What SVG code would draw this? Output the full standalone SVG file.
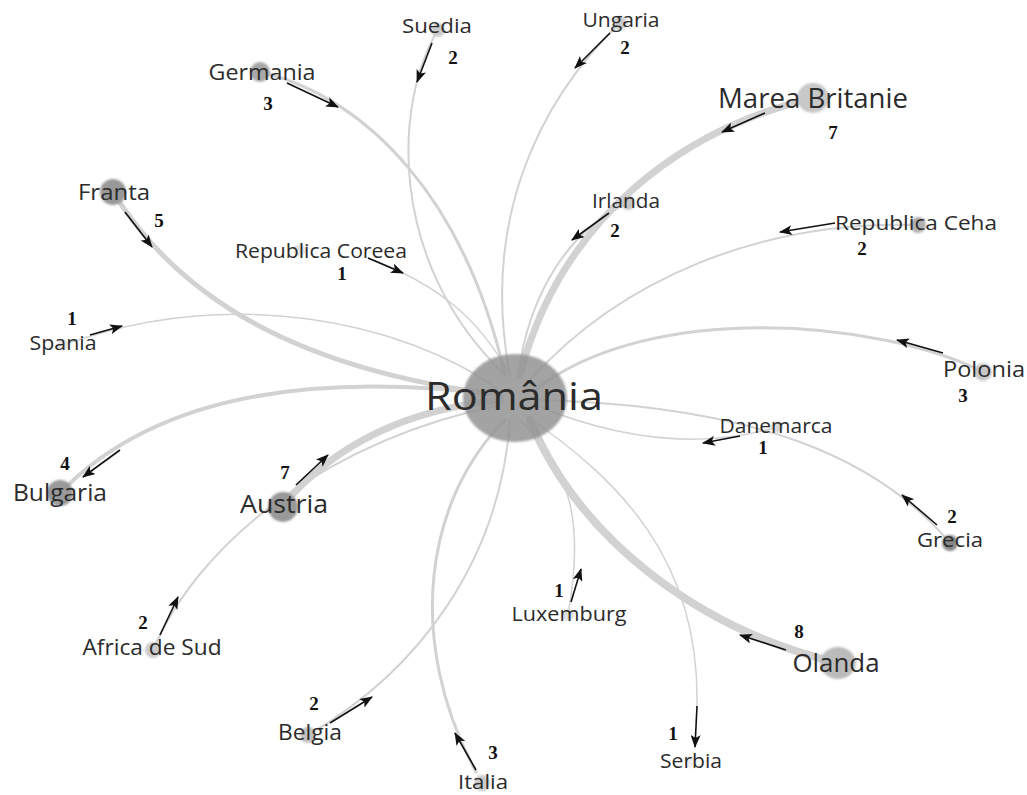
<svg xmlns="http://www.w3.org/2000/svg" width="1027" height="795" viewBox="0 0 1027 795">
<defs>
<style>
.lbl{font-family:"Open Sans","DejaVu Sans",sans-serif;fill:#2b2b2b;text-anchor:middle}
.num{font-family:"Liberation Serif","Times New Roman",serif;font-weight:bold;font-size:19px;fill:#111;text-anchor:middle}
.e{fill:none;stroke:#d2d2d2;stroke-linecap:round}
.ar{stroke:#111;stroke-width:1.6;fill:none;marker-end:url(#ah)}
.dot{filter:url(#soft)}
</style>
<filter id="soft" x="-50%" y="-50%" width="200%" height="200%"><feGaussianBlur stdDeviation="0.8"/></filter>
<marker id="ah" markerWidth="14" markerHeight="10" refX="12" refY="5" orient="auto" markerUnits="userSpaceOnUse"><path d="M0,0 L13,5 L0,10 L3,5 z" fill="#111"/></marker>
</defs>
<rect width="1027" height="795" fill="#ffffff"/>

<g id="connectors">
<path class="e" stroke-width="3" d="M262,72 C370,100 465,200 505,375"/>
<path class="e" stroke-width="2" d="M438,30 C395,100 385,260 505,375"/>
<path class="e" stroke-width="2" d="M620,23 C540,100 480,220 510,375"/>
<path class="e" stroke-width="7" d="M813,98 C680,130 560,220 520,375"/>
<path class="e" stroke-width="2" d="M628,203 C570,230 530,290 518,375"/>
<path class="e" stroke-width="2" d="M918,225 C760,220 620,280 530,380"/>
<path class="e" stroke-width="3" d="M983,372 C880,320 650,300 535,390"/>
<path class="e" stroke-width="1.5" d="M777,427 C700,450 620,440 535,405"/>
<path class="e" stroke-width="2" d="M950,543 C880,460 760,405 535,400"/>
<path class="e" stroke-width="8" d="M838,663 C700,630 580,540 530,420"/>
<path class="e" stroke-width="1.5" d="M697,706 C700,560 620,480 525,415"/>
<path class="e" stroke-width="1.5" d="M568,615 C585,520 570,470 520,420"/>
<path class="e" stroke-width="3" d="M476,772 C405,640 425,500 505,420"/>
<path class="e" stroke-width="2" d="M308,735 C420,670 500,560 510,420"/>
<path class="e" stroke-width="2" d="M153,650 C200,540 330,440 500,405"/>
<path class="e" stroke-width="7" d="M283,505 C330,450 400,410 500,400"/>
<path class="e" stroke-width="4" d="M60,493 C150,400 300,370 500,395"/>
<path class="e" stroke-width="1.5" d="M63,345 C230,285 400,320 500,390"/>
<path class="e" stroke-width="5" d="M113,192 C180,300 300,370 500,395"/>
<path class="e" stroke-width="1.5" d="M368,258 C440,285 480,320 510,375"/>

<line class="ar" x1="287" y1="83" x2="338" y2="107"/>
<line class="ar" x1="432" y1="43" x2="417" y2="82"/>
<line class="ar" x1="610" y1="33" x2="575" y2="68"/>
<line class="ar" x1="765" y1="113" x2="722" y2="132"/>
<line class="ar" x1="609" y1="213" x2="572" y2="240"/>
<line class="ar" x1="835" y1="223" x2="780" y2="232"/>
<line class="ar" x1="125" y1="212" x2="152" y2="247"/>
<line class="ar" x1="368" y1="258" x2="403" y2="273"/>
<line class="ar" x1="90" y1="335" x2="122" y2="326"/>
<line class="ar" x1="943" y1="353" x2="897" y2="340"/>
<line class="ar" x1="740" y1="436" x2="703" y2="443"/>
<line class="ar" x1="937" y1="525" x2="902" y2="495"/>
<line class="ar" x1="120" y1="450" x2="83" y2="477"/>
<line class="ar" x1="296" y1="485" x2="328" y2="455"/>
<line class="ar" x1="160" y1="635" x2="178" y2="597"/>
<line class="ar" x1="330" y1="723" x2="372" y2="697"/>
<line class="ar" x1="476" y1="770" x2="455" y2="733"/>
<line class="ar" x1="571" y1="602" x2="581" y2="569"/>
<line class="ar" x1="786" y1="650" x2="740" y2="635"/>
<line class="ar" x1="697" y1="706" x2="695" y2="747"/>
</g>

<g id="romania">
<ellipse cx="515" cy="398" rx="52" ry="44" fill="#939393" fill-opacity="0.85" class="dot"/>
<text class="lbl" x="514" y="410" font-size="38" textLength="178" lengthAdjust="spacingAndGlyphs" fill="#1e1e1e">România</text>
</g>

<g id="germania"><circle class="dot" cx="260" cy="72" r="10" fill="#a8a8a8"/><text class="lbl" x="262" y="80" font-size="22" textLength="107" lengthAdjust="spacingAndGlyphs">Germania</text><text class="num" x="268" y="110">3</text></g>
<g id="suedia"><circle class="dot" cx="438" cy="30" r="7" fill="#cccccc"/><text class="lbl" x="437" y="33" font-size="20" textLength="70" lengthAdjust="spacingAndGlyphs">Suedia</text><text class="num" x="453" y="64">2</text></g>
<g id="ungaria"><circle class="dot" cx="620" cy="23" r="7" fill="#cccccc"/><text class="lbl" x="621" y="27" font-size="20" textLength="77" lengthAdjust="spacingAndGlyphs">Ungaria</text><text class="num" x="625" y="54">2</text></g>
<g id="marea-britanie"><ellipse class="dot" cx="813" cy="98" rx="16" ry="15" fill="#c8c8c8"/><text class="lbl" x="813" y="108" font-size="27" textLength="190" lengthAdjust="spacingAndGlyphs">Marea Britanie</text><text class="num" x="833" y="139">7</text></g>
<g id="irlanda"><circle class="dot" cx="628" cy="203" r="7" fill="#c4c4c4"/><text class="lbl" x="626" y="208" font-size="20" textLength="68" lengthAdjust="spacingAndGlyphs">Irlanda</text><text class="num" x="615" y="237">2</text></g>
<g id="republica-ceha"><circle class="dot" cx="918" cy="225" r="8" fill="#b0b0b0"/><text class="lbl" x="916" y="230" font-size="20" textLength="162" lengthAdjust="spacingAndGlyphs">Republica Ceha</text><text class="num" x="862" y="255">2</text></g>
<g id="franta"><circle class="dot" cx="113" cy="192" r="13" fill="#999999"/><text class="lbl" x="114" y="200" font-size="22" textLength="72" lengthAdjust="spacingAndGlyphs">Franta</text><text class="num" x="159" y="227">5</text></g>
<g id="republica-coreea"><circle class="dot" cx="300" cy="250" r="6" fill="#e2e2e2"/><text class="lbl" x="321" y="258" font-size="20" textLength="172" lengthAdjust="spacingAndGlyphs">Republica Coreea</text><text class="num" x="342" y="280">1</text></g>
<g id="spania"><circle class="dot" cx="63" cy="345" r="6" fill="#e6e6e6"/><text class="lbl" x="63" y="350" font-size="20" textLength="67" lengthAdjust="spacingAndGlyphs">Spania</text><text class="num" x="72" y="325">1</text></g>
<g id="polonia"><circle class="dot" cx="983" cy="372" r="9" fill="#c8c8c8"/><text class="lbl" x="984" y="377" font-size="21" textLength="82" lengthAdjust="spacingAndGlyphs">Polonia</text><text class="num" x="963" y="402">3</text></g>
<g id="danemarca"><circle class="dot" cx="777" cy="427" r="6" fill="#d8d8d8"/><text class="lbl" x="776" y="433" font-size="20" textLength="113" lengthAdjust="spacingAndGlyphs">Danemarca</text><text class="num" x="763" y="454">1</text></g>
<g id="grecia"><circle class="dot" cx="950" cy="543" r="8" fill="#888888"/><text class="lbl" x="950" y="547" font-size="20" textLength="66" lengthAdjust="spacingAndGlyphs">Grecia</text><text class="num" x="952" y="523">2</text></g>
<g id="bulgaria"><circle class="dot" cx="60" cy="493" r="13" fill="#999999"/><text class="lbl" x="60" y="501" font-size="23" textLength="94" lengthAdjust="spacingAndGlyphs">Bulgaria</text><text class="num" x="65" y="470">4</text></g>
<g id="austria"><circle class="dot" cx="283" cy="507" r="15" fill="#999999"/><text class="lbl" x="284" y="513" font-size="25" textLength="88" lengthAdjust="spacingAndGlyphs">Austria</text><text class="num" x="285" y="479">7</text></g>
<g id="africa-de-sud"><circle class="dot" cx="153" cy="650" r="8" fill="#cccccc"/><text class="lbl" x="152" y="655" font-size="21" textLength="139" lengthAdjust="spacingAndGlyphs">Africa de Sud</text><text class="num" x="143" y="629">2</text></g>
<g id="belgia"><circle class="dot" cx="308" cy="735" r="8" fill="#c0c0c0"/><text class="lbl" x="310" y="740" font-size="21" textLength="64" lengthAdjust="spacingAndGlyphs">Belgia</text><text class="num" x="314" y="710">2</text></g>
<g id="italia"><circle class="dot" cx="482" cy="783" r="8" fill="#cccccc"/><text class="lbl" x="483" y="789" font-size="20" textLength="50" lengthAdjust="spacingAndGlyphs">Italia</text><text class="num" x="493" y="759">3</text></g>
<g id="luxemburg"><circle class="dot" cx="568" cy="615" r="6" fill="#e0e0e0"/><text class="lbl" x="569" y="621" font-size="20" textLength="115" lengthAdjust="spacingAndGlyphs">Luxemburg</text><text class="num" x="559" y="597">1</text></g>
<g id="olanda"><ellipse class="dot" cx="838" cy="663" rx="18" ry="16" fill="#bbbbbb"/><text class="lbl" x="836" y="672" font-size="25" textLength="87" lengthAdjust="spacingAndGlyphs">Olanda</text><text class="num" x="799" y="638">8</text></g>
<g id="serbia"><circle class="dot" cx="691" cy="762" r="6" fill="#eeeeee"/><text class="lbl" x="691" y="768" font-size="20" textLength="62" lengthAdjust="spacingAndGlyphs">Serbia</text><text class="num" x="673" y="740">1</text></g>
</svg>
